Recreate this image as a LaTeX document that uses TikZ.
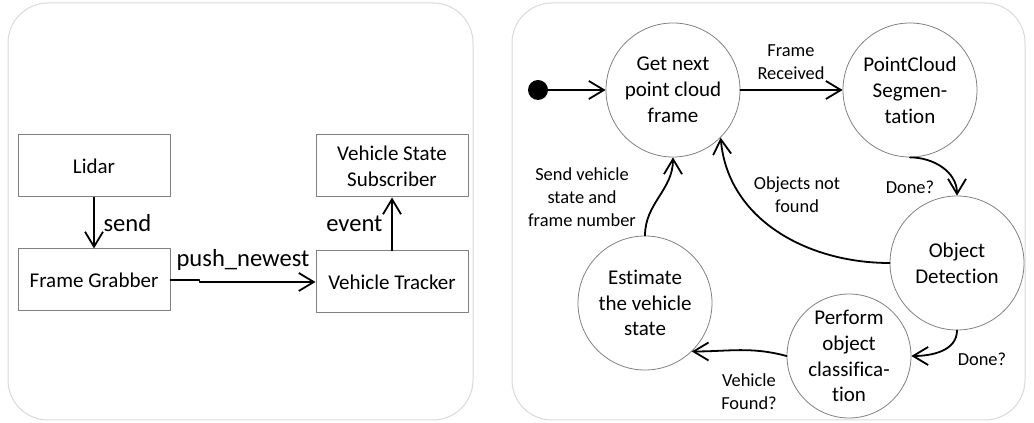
\documentclass[tikz,border=0pt]{standalone}
\usepackage{fontspec}
\setmainfont{Carlito}[Ligatures=NoCommon]
\usetikzlibrary{arrows.meta}
\begin{document}
\begin{tikzpicture}[x=0.5pt, y=0.5pt, line join=round, line cap=round,
	>={Straight Barb[length=7.5pt,width=9pt]},
	panel/.style={draw=black!15, line width=0.5pt, rounded corners=20pt},
	block/.style={draw=gray, line width=0.5pt, minimum width=76pt, minimum height=31pt, align=center, font=\fontsize{10.5}{13}\selectfont},
	state/.style={circle, draw=gray, line width=0.4pt, align=center, inner sep=0pt, minimum size=67pt, font=\fontsize{10.5}{12.9}\selectfont},
	arr/.style={->, line width=0.9pt},
	lbl/.style={font=\fontsize{12.3}{14}\selectfont},
	tag/.style={align=center, font=\fontsize{9.2}{11.6}\selectfont}]
		\useasboundingbox (0,0) rectangle (1034,423);
		% panels
		\draw[panel] (8,3) rectangle (473,420);
		\draw[panel] (512,3) rectangle (1025,420);
		% left: components
		\node[block] (lidar) at (94,257) {Lidar};
		\node[block] (grab) at (94,143) {Frame Grabber};
		\node[block] (sub) at (392,257) {Vehicle State\\Subscriber};
		\node[block] (track) at (392,141) {Vehicle Tracker};
		\draw[arr] (lidar) -- node[lbl, right, xshift=1pt] {send} (grab);
		\draw[arr] (grab.east) -- ++(29,0) |- (track.west);
		\node[lbl] (push) at (243,163) {push\_newest};
		\draw[arr] (track) -- node[lbl, left, xshift=-1pt] {event} (sub);
		% right: states
		\node[circle, fill=black, minimum size=10pt, inner sep=0pt] (init) at (538,333) {};
		\node[state] (next) at (673,333) {Get next\\point cloud\\frame};
		\node[state] (seg) at (910,333) {PointCloud\\Segmen-\\tation};
		\node[state] (det) at (957,160) {Object\\Detection};
		\node[state, minimum size=62pt] (cls) at (849,67) {Perform\\object\\classifica-\\tion};
		\node[state] (est) at (645,120) {Estimate\\the vehicle\\state};
		\draw[arr] (init) -- (next);
		\draw[arr] (next) -- (seg);
		\node[tag] at (791,361) {Frame\\Received};
		\draw[arr] (seg.south) to[out=0, in=90] (det.north);
		\node[tag] at (910,236) {Done?};
		\draw[arr] (det.west) to[out=180, in=-85] (next.-45);
		\node[tag] at (797,228) {Objects not\\found};
		\draw[arr] (est.north) to[out=90, in=-90] (next.south);
		\node[tag] at (582,226) {Send vehicle\\state and\\frame number};
		\draw[arr] (det.south) to[out=-90, in=0] (cls.east);
		\node[tag] at (982,64) {Done?};
		\draw[arr] (cls.west) to[out=165, in=0] (est.-46);
		\node[tag] at (749,31) {Vehicle\\Found?};
\end{tikzpicture}
\end{document}
